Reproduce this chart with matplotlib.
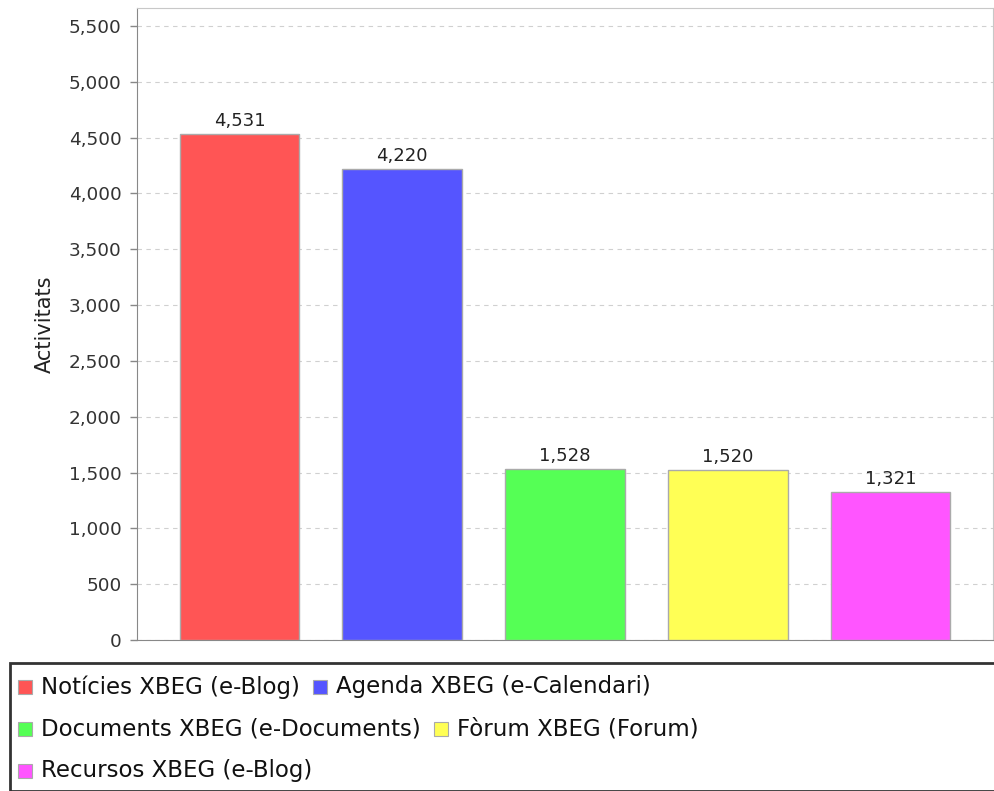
import matplotlib
matplotlib.use('Agg')
import matplotlib.pyplot as plt
from matplotlib.patches import Rectangle
from matplotlib.ticker import FuncFormatter, MultipleLocator

categories = ['Notícies XBEG (e-Blog)', 'Agenda XBEG (e-Calendari)',
              'Documents XBEG (e-Documents)', 'Fòrum XBEG (Forum)',
              'Recursos XBEG (e-Blog)']
values = [4531, 4220, 1528, 1520, 1321]
colors = ['#FF5555', '#5555FF', '#55FF55', '#FFFF55', '#FF55FF']
legend_rows = [[0, 1], [2, 3], [4]]

W, H = 995, 791
fig = plt.figure(figsize=(W / 100, H / 100), dpi=100)
ax = fig.add_axes([137 / W, 1 - 640 / H, (993 - 137) / W, (640 - 8) / H])

x = list(range(len(values)))
ax.bar(x, values, width=0.737, color=colors, edgecolor='#aaaaaa', linewidth=1, zorder=3)
for xi, v in zip(x, values):
    ax.annotate(f'{v:,}', (xi, v), xytext=(0, 3), textcoords='offset points',
                ha='center', va='bottom', fontsize=13, color='#222222')

ax.set_xlim(-0.63, 4.63)
ax.set_ylim(0, 5660)
ax.yaxis.set_major_locator(MultipleLocator(500))
ax.yaxis.set_major_formatter(FuncFormatter(lambda v, p: f'{v:,.0f}'))
ax.set_xticks([])
ax.tick_params(axis='y', labelsize=13.3, colors='#888888', labelcolor='#333333',
               length=5, width=1, pad=6)
ax.grid(axis='y', linestyle=(0, (4, 4)), color='#d0d0d0', linewidth=0.8, zorder=0)
for side in ['top', 'right']:
    ax.spines[side].set_color('#c8c8c8')
for side in ['left', 'bottom']:
    ax.spines[side].set_color('#888888')
ax.set_ylabel('Activitats', fontsize=15, color='#222222', labelpad=10)

# legend box drawn in a flow layout
fig.patches.append(Rectangle((10 / W, 0), (W - 10) / W + 0.01, (H - 663) / H,
                             transform=fig.transFigure, fill=False,
                             edgecolor='#333333', linewidth=2))
renderer = fig.canvas.get_renderer()
row_y = [687, 729, 771]
for row, ry in zip(legend_rows, row_y):
    px = 18
    for i in row:
        fig.patches.append(Rectangle((px / W, 1 - (ry + 7) / H), 14 / W, 14 / H,
                                     transform=fig.transFigure, facecolor=colors[i],
                                     edgecolor='#aaaaaa', linewidth=0.8))
        t = fig.text((px + 23) / W, 1 - ry / H, categories[i], fontsize=16.5,
                     va='center', ha='left', color='#111111')
        bb = t.get_window_extent(renderer)
        px = px + 23 + bb.width + 13

fig.savefig('out.png', dpi=100)
